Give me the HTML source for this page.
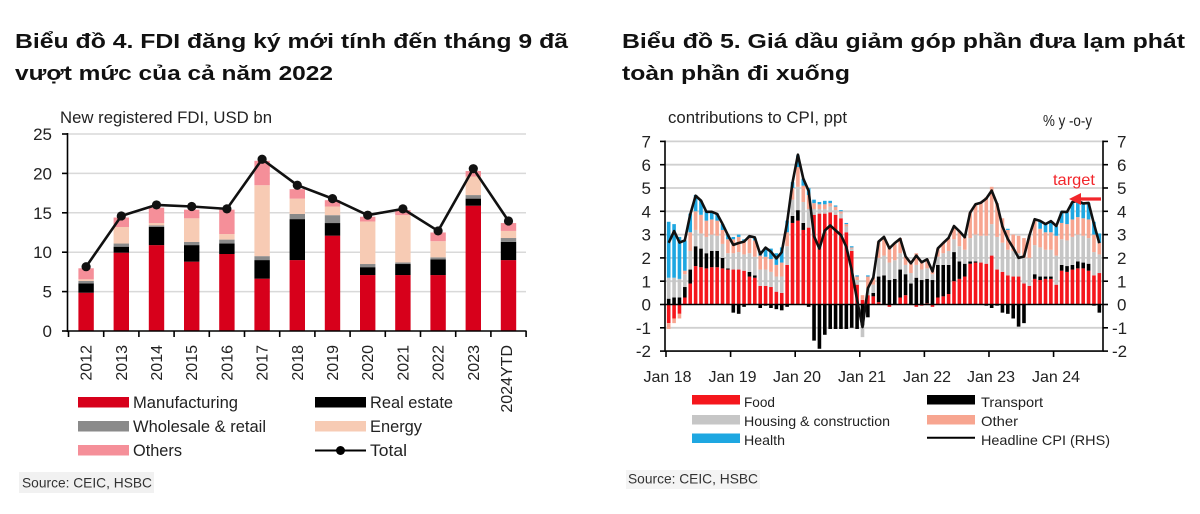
<!DOCTYPE html>
<html><head><meta charset="utf-8">
<style>
html,body{margin:0;padding:0;background:#fff;}
svg{display:block;}
text{font-family:"Liberation Sans","DejaVu Sans",Arial,sans-serif;}
</style></head>
<body>
<svg id="s" width="1200" height="514" viewBox="0 0 1200 514" xmlns="http://www.w3.org/2000/svg">
<rect width="1200" height="514" fill="#fff"/>
<!-- Titles -->
<g font-weight="bold" font-size="20" fill="#111">
<text x="15" y="48" textLength="553" lengthAdjust="spacingAndGlyphs">Biểu đồ 4. FDI đăng ký mới tính đến tháng 9 đã</text>
<text x="15" y="80" textLength="318" lengthAdjust="spacingAndGlyphs">vượt mức của cả năm 2022</text>
<text x="622" y="48" textLength="563" lengthAdjust="spacingAndGlyphs">Biểu đồ 5. Giá dầu giảm góp phần đưa lạm phát</text>
<text x="622" y="80" textLength="228" lengthAdjust="spacingAndGlyphs">toàn phần đi xuống</text>
</g>

<!-- LEFT CHART -->
<text x="60" y="123" font-size="17" fill="#222" textLength="212" lengthAdjust="spacingAndGlyphs">New registered FDI, USD bn</text>
<g stroke="#d9d9d9" stroke-width="1.5">
<line x1="67.5" x2="526" y1="291.6" y2="291.6"/>
<line x1="67.5" x2="526" y1="252.2" y2="252.2"/>
<line x1="67.5" x2="526" y1="212.8" y2="212.8"/>
<line x1="67.5" x2="526" y1="173.4" y2="173.4"/>
<line x1="67.5" x2="526" y1="134" y2="134"/>
</g>
<g id="lbars"></g>
<g id="lline"></g>
<g stroke="#000" stroke-width="1.6">
<line x1="67.5" y1="133" x2="67.5" y2="332"/>
<line x1="67" y1="331" x2="526.5" y2="331"/>
<line x1="62" y1="331" x2="67.5" y2="331"/>
<line x1="62" y1="291.6" x2="67.5" y2="291.6"/>
<line x1="62" y1="252.2" x2="67.5" y2="252.2"/>
<line x1="62" y1="212.8" x2="67.5" y2="212.8"/>
<line x1="62" y1="173.4" x2="67.5" y2="173.4"/>
<line x1="62" y1="134" x2="67.5" y2="134"/>
</g>
<g id="lticks" stroke="#000" stroke-width="1.6"></g>
<g font-size="17" fill="#222" text-anchor="end">
<text x="52" y="337">0</text>
<text x="52" y="297.6">5</text>
<text x="52" y="258.2">10</text>
<text x="52" y="218.8">15</text>
<text x="52" y="179.4">20</text>
<text x="52" y="140">25</text>
</g>
<g font-size="16" fill="#222" text-anchor="end">
<text transform="translate(91.6,345) rotate(-90)">2012</text>
<text transform="translate(126.8,345) rotate(-90)">2013</text>
<text transform="translate(162,345) rotate(-90)">2014</text>
<text transform="translate(197.2,345) rotate(-90)">2015</text>
<text transform="translate(232.4,345) rotate(-90)">2016</text>
<text transform="translate(267.6,345) rotate(-90)">2017</text>
<text transform="translate(302.8,345) rotate(-90)">2018</text>
<text transform="translate(338,345) rotate(-90)">2019</text>
<text transform="translate(373.2,345) rotate(-90)">2020</text>
<text transform="translate(408.4,345) rotate(-90)">2021</text>
<text transform="translate(443.6,345) rotate(-90)">2022</text>
<text transform="translate(478.8,345) rotate(-90)">2023</text>
<text transform="translate(512,345) rotate(-90)">2024YTD</text>
</g>
<!-- left legend -->
<rect x="78" y="397" width="51" height="10.5" fill="#d7001b"/>
<rect x="78" y="421" width="51" height="10.5" fill="#8a8a8a"/>
<rect x="78" y="445" width="51" height="10.5" fill="#f58f99"/>
<rect x="315" y="397" width="51" height="10.5" fill="#000"/>
<rect x="315" y="421" width="51" height="10.5" fill="#f7cbb4"/>
<line x1="315" y1="450.5" x2="366" y2="450.5" stroke="#000" stroke-width="2"/>
<circle cx="340.5" cy="450.5" r="4.5" fill="#000"/>
<g font-size="17" fill="#222">
<text x="133" y="408" textLength="105" lengthAdjust="spacingAndGlyphs">Manufacturing</text>
<text x="133" y="432" textLength="133" lengthAdjust="spacingAndGlyphs">Wholesale &amp; retail</text>
<text x="133" y="456" textLength="49" lengthAdjust="spacingAndGlyphs">Others</text>
<text x="370" y="408" textLength="83" lengthAdjust="spacingAndGlyphs">Real estate</text>
<text x="370" y="432" textLength="52" lengthAdjust="spacingAndGlyphs">Energy</text>
<text x="370" y="456" textLength="37" lengthAdjust="spacingAndGlyphs">Total</text>
</g>
<rect x="19" y="472" width="135" height="21" fill="#f1f1f1"/>
<text x="22" y="487.5" font-size="14" fill="#333" textLength="130" lengthAdjust="spacingAndGlyphs">Source: CEIC, HSBC</text>

<!-- RIGHT CHART -->
<text x="668" y="123" font-size="17" fill="#222" textLength="179" lengthAdjust="spacingAndGlyphs">contributions to CPI, ppt</text>
<text x="1043" y="126" font-size="16" fill="#222" textLength="49" lengthAdjust="spacingAndGlyphs">% y -o-y</text>
<g stroke="#d0d0d0" stroke-width="1.8">
<line x1="665" x2="1103" y1="141.4" y2="141.4"/>
<line x1="665" x2="1103" y1="164.7" y2="164.7"/>
<line x1="665" x2="1103" y1="188" y2="188"/>
<line x1="665" x2="1103" y1="211.3" y2="211.3"/>
<line x1="665" x2="1103" y1="234.6" y2="234.6"/>
<line x1="665" x2="1103" y1="257.9" y2="257.9"/>
<line x1="665" x2="1103" y1="281.2" y2="281.2"/>
<line x1="665" x2="1103" y1="327.8" y2="327.8"/>
</g>
<g id="rbars"></g>
<line x1="665" y1="304.5" x2="1103" y2="304.5" stroke="#000" stroke-width="1.5"/>
<g id="rline"></g>
<g stroke="#000" stroke-width="1.6">
<line x1="665" y1="140.5" x2="665" y2="351.5"/>
<line x1="1103" y1="140.5" x2="1103" y2="351.5"/>
<line x1="664.5" y1="351.1" x2="1103.5" y2="351.1"/>
</g>
<g id="rticks" stroke="#000" stroke-width="1.6"></g>
<g font-size="17" fill="#222" text-anchor="end">
<text x="651" y="147.5">7</text>
<text x="651" y="170.8">6</text>
<text x="651" y="194.1">5</text>
<text x="651" y="217.4">4</text>
<text x="651" y="240.7">3</text>
<text x="651" y="264">2</text>
<text x="651" y="287.3">1</text>
<text x="651" y="310.6">0</text>
<text x="651" y="333.9">-1</text>
<text x="651" y="357.2">-2</text>
</g>
<g font-size="17" fill="#222" text-anchor="start">
<text x="1117" y="147.5">7</text>
<text x="1117" y="170.8">6</text>
<text x="1117" y="194.1">5</text>
<text x="1117" y="217.4">4</text>
<text x="1117" y="240.7">3</text>
<text x="1117" y="264">2</text>
<text x="1117" y="287.3">1</text>
<text x="1117" y="310.6">0</text>
<text x="1112" y="333.9">-1</text>
<text x="1112" y="357.2">-2</text>
</g>
<g font-size="16" fill="#222" text-anchor="middle">
<text x="667.5" y="382" textLength="48" lengthAdjust="spacingAndGlyphs">Jan 18</text>
<text x="732.5" y="382" textLength="48" lengthAdjust="spacingAndGlyphs">Jan 19</text>
<text x="797" y="382" textLength="48" lengthAdjust="spacingAndGlyphs">Jan 20</text>
<text x="862" y="382" textLength="48" lengthAdjust="spacingAndGlyphs">Jan 21</text>
<text x="927" y="382" textLength="48" lengthAdjust="spacingAndGlyphs">Jan 22</text>
<text x="991" y="382" textLength="48" lengthAdjust="spacingAndGlyphs">Jan 23</text>
<text x="1056" y="382" textLength="48" lengthAdjust="spacingAndGlyphs">Jan 24</text>
</g>
<!-- target annotation -->
<text x="1053" y="185" font-size="16" fill="#f2262b" textLength="42" lengthAdjust="spacingAndGlyphs">target</text>
<line x1="1079" y1="199" x2="1101" y2="199" stroke="#f2262b" stroke-width="3.2"/>
<polygon points="1069,199 1081,193 1081,205" fill="#f2262b"/>
<!-- right legend -->
<rect x="692" y="395" width="48" height="9.5" fill="#f5161c"/>
<rect x="692" y="415" width="48" height="9.5" fill="#c6c6c6"/>
<rect x="692" y="433.5" width="48" height="9.5" fill="#1ea7e1"/>
<rect x="927" y="395" width="48" height="9.5" fill="#000"/>
<rect x="927" y="415" width="48" height="9.5" fill="#f7a590"/>
<line x1="927" y1="437.7" x2="975" y2="437.7" stroke="#000" stroke-width="2"/>
<g font-size="14" fill="#222">
<text x="744" y="407" textLength="31" lengthAdjust="spacingAndGlyphs">Food</text>
<text x="744" y="426" textLength="146" lengthAdjust="spacingAndGlyphs">Housing &amp; construction</text>
<text x="744" y="445" textLength="41" lengthAdjust="spacingAndGlyphs">Health</text>
<text x="981" y="407" textLength="62" lengthAdjust="spacingAndGlyphs">Transport</text>
<text x="981" y="426" textLength="37" lengthAdjust="spacingAndGlyphs">Other</text>
<text x="981" y="445" textLength="129" lengthAdjust="spacingAndGlyphs">Headline CPI (RHS)</text>
</g>
<rect x="626" y="470" width="134" height="19" fill="#f4f4f4"/>
<text x="628" y="483.5" font-size="14" fill="#333" textLength="130" lengthAdjust="spacingAndGlyphs">Source: CEIC, HSBC</text>
</svg>
<script>
(function(){
var NS="http://www.w3.org/2000/svg";
function el(tag,a,p){var e=document.createElementNS(NS,tag);for(var k in a)e.setAttribute(k,a[k]);p.appendChild(e);return e;}
// LEFT
var cum=[[4.86,6.05,6.35,6.56,7.96],[9.94,10.7,11.1,13.2,14.4],[10.9,13.2,13.4,13.7,15.65],[8.8,10.9,11.3,14.3,15.4],[9.77,11.1,11.6,12.3,15.4],[6.64,9.0,9.5,18.5,21.6],[9.0,14.2,14.85,16.8,18.0],[12.1,13.7,14.7,15.8,16.6],[7.1,8.1,8.5,13.9,14.5],[7.1,8.5,8.7,14.7,15.35],[7.1,9.1,9.35,11.4,12.5],[15.9,16.8,17.25,19.6,20.3],[9.0,11.3,11.8,12.7,13.7]];
var tot=[8.16,14.6,16.0,15.8,15.5,21.8,18.5,16.8,14.7,15.5,12.7,20.6,13.96];
var lc=['#d7001b','#000000','#8a8a8a','#f7cbb4','#f58f99'];
function ly(v){return 331-v*7.88;}
var LB=document.getElementById('lbars');
var pts=[];
cum.forEach(function(c,i){var cx=86.1+35.2*i;var prev=0;c.forEach(function(t,j){el('rect',{x:cx-7.7,y:ly(t),width:15.4,height:ly(prev)-ly(t),fill:lc[j]},LB);prev=t;});pts.push(cx+','+ly(tot[i]));});
var LL=document.getElementById('lline');
el('polyline',{points:pts.join(' '),fill:'none',stroke:'#111',"stroke-width":2.6,"stroke-linejoin":'round'},LL);
tot.forEach(function(t,i){el('circle',{cx:86.1+35.2*i,cy:ly(t),r:4.6,fill:'#111'},LL);});
var LT=document.getElementById('lticks');
for(var k=0;k<=13;k++){var x=68.5+35.2*k;el('line',{x1:x,y1:331,x2:x,y2:337},LT);}
// RIGHT
var comp=[
[-0.8,0.25,0.9,-0.25,2.4],[-0.6,0.3,0.85,-0.2,2.3],[-0.4,0.3,0.8,-0.2,1.8],[0.3,0.45,0.55,0.15,1.3],
[0.9,0.6,0.8,0.8,0.8],[1.65,0.85,0.7,0.8,0.7],[1.6,0.8,0.65,0.8,0.6],[1.55,0.65,0.7,0.7,0.4],
[1.6,0.7,0.7,0.65,0.35],[1.6,0.7,0.65,0.65,0.3],[1.55,0.45,0.6,0.6,0.25],[1.5,0.05,0.65,0.6,0.2],
[1.5,-0.35,0.7,0.6,0.1],[1.5,-0.4,0.75,0.65,0.1],[1.45,-0.1,0.7,0.55,0.1],[1.2,0.2,0.8,0.65,0.1],
[1.15,0.1,0.8,0.7,0.1],[0.8,-0.15,0.7,0.6,0.2],[0.8,-0.05,0.7,0.55,0.4],[0.75,-0.15,0.65,0.55,0.45],
[0.55,-0.2,0.65,0.5,0.5],[0.5,-0.25,0.7,0.6,0.65],[1.7,-0.1,0.8,0.6,0.5],[3.5,0.3,0.7,0.5,0.25],
[3.6,0.45,1.0,0.85,0.5],[3.2,0.3,0.9,0.7,0.3],[3.3,-0.1,0.8,0.6,0.3],[3.85,-1.55,0.25,0.25,0.15],
[3.9,-1.9,0.2,0.2,0.1],[3.9,-1.3,0.2,0.2,0.15],[3.95,-1.05,0.25,0.15,0.1],[3.85,-1.05,0.2,0.15,0.05],
[3.7,-1.05,0.2,0.1,0.05],[3.1,-1.05,0.25,0.1,0.05],[2.3,-1.0,0.1,0.05,0.05],[0.85,-1.05,0.2,0.15,0.05],
[0.2,-0.9,-0.5,0.2,0],[0.4,-0.55,0.3,0.5,0.05],[0.35,0.15,0.35,0.3,0],[0.1,1.1,0.8,0.7,0],
[0.0,1.25,0.85,0.8,0],[-0.1,1.05,0.75,0.7,0],[0.0,1.1,0.8,0.75,0],[0.3,1.2,0.7,0.65,0],
[0.4,0.9,0.4,0.35,0],[0.0,0.9,0.45,0.4,0],[-0.1,1.15,0.55,0.5,0],[-0.05,1.05,0.45,0.35,0],
[0.05,1.05,0.45,0.4,0],[-0.1,1.05,0.25,0.2,0],[0.3,1.4,0.35,0.35,0],[0.35,1.35,0.5,0.45,0],
[0.45,1.25,0.6,0.55,0],[1.0,1.25,0.55,0.55,0],[1.1,0.75,0.65,0.65,0],[1.2,0.55,0.6,0.55,0],
[1.75,0.1,1.0,1.1,0],[1.8,0.05,1.15,1.3,0],[1.8,0.0,1.15,1.4,0],[1.75,-0.05,1.2,1.65,0],
[2.1,-0.15,1.35,1.6,0],[1.5,-0.05,1.4,1.45,0],[1.4,-0.35,1.25,1.05,0],[1.25,-0.4,1.1,0.85,0.05],
[1.2,-0.6,1.1,0.7,0],[1.2,-0.95,1.0,0.75,0],[0.9,-0.8,1.1,0.85,0],[0.8,0.0,1.2,0.95,0],
[1.1,0.2,1.25,1.1,0],[1.05,0.15,1.25,0.8,0.35],[1.1,0.1,1.15,0.75,0.35],[1.1,0.1,1.15,0.75,0.45],
[0.85,0.0,1.25,0.85,0.4],[1.45,0.25,1.1,0.7,0.5],[1.4,0.25,1.1,0.7,0.5],[1.5,0.2,1.2,0.75,0.75],
[1.55,0.3,1.15,0.75,0.7],[1.55,0.25,1.15,0.75,0.65],[1.45,0.3,1.1,0.8,0.7],[1.25,-0.05,1.0,0.75,0.55],
[1.35,-0.35,0.8,0.5,0.4]];
var cpi=[2.65,3.15,2.66,2.75,3.86,4.67,4.46,3.98,3.98,3.89,3.46,2.98,2.56,2.64,2.70,2.93,2.88,2.16,2.44,2.26,1.98,2.24,3.52,5.23,6.43,5.40,4.87,2.93,2.40,3.17,3.39,3.18,2.98,2.47,1.48,0.19,-0.97,0.70,1.16,2.70,2.90,2.41,2.64,2.82,2.06,1.77,2.10,1.81,1.94,1.42,2.41,2.64,2.86,3.37,3.14,2.89,3.94,4.30,4.37,4.55,4.89,4.31,3.35,2.81,2.43,2.00,2.06,2.96,3.66,3.59,3.45,3.58,3.37,3.98,3.97,4.40,4.44,4.34,4.36,3.45,2.63];
var rc=['#f5161c','#000000','#c6c6c6','#f7a590','#1ea7e1'];
function ry(v){return 304.5-v*23.3;}
function rx(m){return 668.7+5.383*m;}
var RB=document.getElementById('rbars');
comp.forEach(function(c,m){var cx=rx(m);var pos=0,neg=0;c.forEach(function(v,j){if(v===0)return;if(v>0){el('rect',{x:cx-1.8,y:ry(pos+v),width:3.6,height:v*23.3,fill:rc[j]},RB);pos+=v;}else{el('rect',{x:cx-1.8,y:ry(neg),width:3.6,height:-v*23.3,fill:rc[j]},RB);neg+=v;}});});
var rp=cpi.map(function(v,m){return rx(m).toFixed(1)+','+ry(v).toFixed(1);});
el('polyline',{points:rp.join(' '),fill:'none',stroke:'#111',"stroke-width":2.6,"stroke-linejoin":'round'},document.getElementById('rline'));
var RT=document.getElementById('rticks');
for(var v=-2;v<=7;v++){el('line',{x1:660,y1:ry(v),x2:665,y2:ry(v)},RT);el('line',{x1:1103,y1:ry(v),x2:1108,y2:ry(v)},RT);}
for(var y=0;y<=6;y++){var x=666+5.383*12*y;el('line',{x1:x,y1:351,x2:x,y2:357},RT);}
})();
</script>
</body></html>
